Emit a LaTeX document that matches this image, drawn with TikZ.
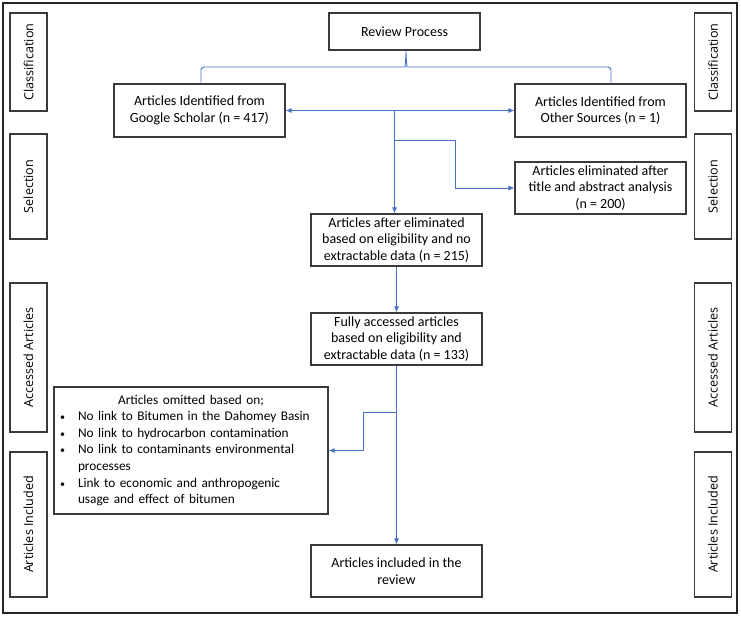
\documentclass[tikz,border=0pt]{standalone}
\usepackage{fontspec}
\setmainfont{Carlito}
\newfontfamily\sidefont{Open Sans}
\usetikzlibrary{arrows.meta,calc}
\definecolor{lnk}{HTML}{4472C4}
\definecolor{bord}{HTML}{3A3A3A}
\newcommand{\bl}{\makebox[18pt][l]{{\fontsize{10}{10}\selectfont\textbullet}}}
\begin{document}
\begin{tikzpicture}[x=1pt,y=-1pt,
  box/.style={draw=bord, line width=1.1pt, rectangle, minimum width=171pt, minimum height=52pt, align=center, inner sep=2pt, font=\fontsize{14}{16.5}\selectfont},
  side/.style={draw=bord, line width=1.1pt, rectangle, rotate=90, minimum height=37pt, font=\sidefont\fontsize{12.6}{14}\selectfont, inner sep=0pt},
  conn/.style={draw=lnk, line width=0.9pt},
  arr/.style={conn, -{Latex[length=6pt,width=5pt]}},
  darr/.style={conn, {Latex[length=6pt,width=5pt]}-{Latex[length=6pt,width=5pt]}}
]
\useasboundingbox (0,0) rectangle (741,616);
\draw[line width=1.5pt, black!85] (3,3) rectangle (737,613);

% side labels
\node[side, minimum width=98pt]  (cl) at (28.5,62)    {Classification};
\node[side, minimum width=105pt] (sl) at (28.5,186.5) {Selection};
\node[side, minimum width=149pt] (al) at (28.5,357.5) {Accessed Articles};
\node[side, minimum width=145pt] (il) at (28.5,524.5) {Articles Included};
\node[side, minimum width=98pt]  (cr) at (713,62)     {Classification};
\node[side, minimum width=105pt] (sr) at (713,186.5)  {Selection};
\node[side, minimum width=149pt] (ar) at (713,357.5)  {Accessed Articles};
\node[side, minimum width=145pt] (ir) at (713,524.5)  {Articles Included};

% main boxes
\node[box, minimum width=151pt, minimum height=37pt] (rp) at (404.5,31.5) {Review Process};
\node[box, minimum height=53pt] (gs) at (199.5,110.5) {Articles Identified from\\Google Scholar (n = 417)};
\node[box, minimum height=53pt] (os) at (600.5,110.5) {Articles Identified from\\Other Sources (n = 1)};
\node[box] (el) at (600.5,188) {Articles eliminated after\\title and abstract analysis\\(n = 200)};
\node[box] (ae) at (396.5,240) {Articles after eliminated\\based on eligibility and no\\extractable data (n = 215)};
\node[box] (fa) at (396.5,339) {Fully accessed articles\\based on eligibility and\\extractable data (n = 133)};
\node[box, minimum width=274pt, minimum height=127pt, text width=262pt, inner xsep=6pt, align=left,
      font=\fontsize{13.3}{16.6}\selectfont] (om) at (191,450.5)
  {\makebox[262pt][c]{Articles omitted based on;}\\
   \bl No link to Bitumen in the Dahomey Basin\\
   \bl No link to hydrocarbon contamination\\
   \bl No link to contaminants environmental\\
   \hspace*{18pt}processes\\
   \bl Link to economic and anthropogenic\\
   \hspace*{18pt}usage and effect of bitumen};
\node[box] (inc) at (396.5,571) {Articles included in the\\review};

% brace under Review Process
\coordinate (bl) at ($(gs.north)+(1.5,-1)$);
\coordinate (br) at ($(os.north)+(10.5,-1)$);
\coordinate (bt) at ($(rp.south)+(1.5,-2)$);
\draw[conn, rounded corners=3pt] (bl) -- (bl |- 0,67) -- ($(bt |- 0,67)+(-4,0)$)
  .. controls ($(bt |- 0,67)+(-1,0)$) and ($(bt)+(0,8)$) .. (bt)
  .. controls ($(bt)+(0,8)$) and ($(bt |- 0,67)+(1,0)$) .. ($(bt |- 0,67)+(4,0)$)
  -- (br |- 0,67) -- (br);

% connectors
\draw[darr] (gs.east) -- (os.west);
\coordinate (j1) at ($(ae.north |- gs.east)+(-2,0)$);
\draw[arr] (j1) -- (j1 |- ae.north);
\coordinate (j2) at (j1 |- 0,140);
\coordinate (k2) at (455,140);
\draw[conn] (j2) -- (k2);
\draw[arr] (k2) |- (el.west);
\draw[arr] (ae.south) -- (fa.north);
\draw[arr] (fa.south) -- (inc.north);
\coordinate (j3) at (fa.south |- 0,412);
\coordinate (k3) at (363,412);
\draw[arr] (j3) -- (k3) |- (om.east);
\end{tikzpicture}
\end{document}
